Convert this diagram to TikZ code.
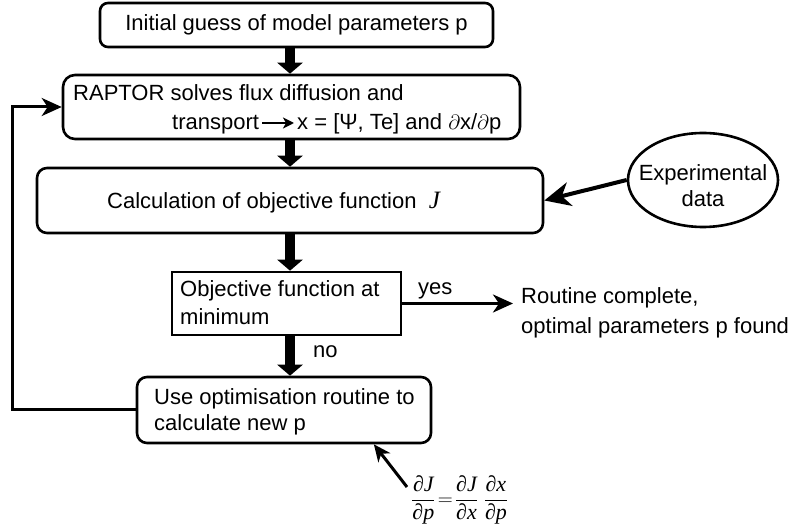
\documentclass[tikz,border=0pt]{standalone}
\usepackage{fontspec}
\setmainfont{Liberation Sans}
\newfontfamily\tms{Liberation Serif}
\usetikzlibrary{arrows.meta,shapes.geometric,calc}
\newcommand{\ti}[1]{\hbox{\tms\itshape #1}}
\begin{document}
\begin{tikzpicture}[x=1pt,y=-1pt,
  every node/.style={font=\fontsize{22}{28}\selectfont},
  box/.style={draw, line width=2.6pt, inner sep=0pt},
  rbox/.style={box, rounded corners=#1},
  txt/.style={anchor=base west, inner sep=0pt},
  ctxt/.style={anchor=base, inner sep=0pt},
  bigarrow/.style={line width=10pt, -{Triangle[length=11pt,width=25pt]}},
  thinarrow/.style={line width=3pt, -{Stealth[length=20pt,width=18pt,inset=6pt]}}
]
\useasboundingbox (0,0) rectangle (801,529);

% boxes
\node[rbox=8pt, minimum width=393pt, minimum height=44pt] (b1) at (296.5,25) {Initial guess of model parameters p};
\node[rbox=12pt, minimum width=457pt, minimum height=64pt] (b2) at (291.5,107) {};
\node[rbox=10pt, minimum width=506pt, minimum height=65pt] (b3) at (290,200.5) {};
\node[box, minimum width=229pt, minimum height=63pt] (b4) at (286.5,303.5) {};
\node[rbox=10pt, minimum width=294pt, minimum height=66pt] (b5) at (284,410) {};
\node[draw, ellipse, line width=2.6pt, minimum width=150pt, minimum height=94pt, inner sep=0pt] (exp) at (703,180) {};

% texts
\node[txt] (b2a) at (73,101) {RAPTOR solves flux diffusion and};
\node[txt] (b2b) at (172,130) {transport};
\node[txt] (b2c) at (297,130) {x = [Ψ, Te] and $\partial$x/$\partial$p};
\draw[line width=2pt, -{Stealth[length=11pt,width=11pt,inset=3pt]}] ([xshift=3pt,yshift=7pt]b2b.base east) -- ([xshift=-3pt,yshift=7pt]b2c.base west);
\node[txt] (b3t) at (107,209) {Calculation of objective function\ \ {\tms\itshape\fontsize{25}{28}\selectfont J}};
\node[txt] (b4a) at (180,297) {Objective function at};
\node[txt] (b4b) at (180,325) {minimum};
\node[txt] (b5a) at (154,404) {Use optimisation routine to};
\node[txt] (b5b) at (154,430) {calculate new p};
\node[ctxt] (expa) at (703,181) {Experimental};
\node[ctxt] (expb) at (703,207) {data};
\node[txt] (yes) at (418,295) {yes};
\node[txt] (no) at (313,358) {no};
\node[txt] (rc1) at (521,304) {Routine complete,};
\node[txt] (rc2) at (521,334) {optimal parameters p found};
\node[anchor=west, inner sep=0pt] (frm) at (411,500) {\fontsize{22}{26}\selectfont $\displaystyle\frac{\ti{∂J}}{\ti{∂p}}\!=\!\frac{\ti{∂J}}{\ti{∂x}}\;\frac{\ti{∂x}}{\ti{∂p}}$};

% main flow arrows
\coordinate (ax) at (290,0);
\draw[bigarrow] (b1.south -| ax) -- (b2.north -| ax);
\draw[bigarrow] (b2.south -| ax) -- (b3.north -| ax);
\draw[bigarrow] (b3.south -| ax) -- (b4.north -| ax);
\draw[bigarrow] (b4.south -| ax) -- (b5.north -| ax);

% other connectors
\draw[thinarrow, line width=4pt, -{Stealth[length=26pt,width=24pt,inset=8pt]}] (exp.west) -- (b3.east);
\coordinate (yesend) at (513,303.5);
\draw[thinarrow] (b4.east) -- (yesend);
\coordinate (loopx) at (12,0);
\draw[thinarrow] (b5.west) -- (b5.west -| loopx) |- (b2.west);
\coordinate (ftail) at (407,487);
\coordinate (ftip) at ($(b5.south west)!0.803!(b5.south east)$);
\draw[thinarrow, -{Stealth[length=17pt,width=15pt,inset=5pt]}] (ftail) -- (ftip);
\end{tikzpicture}
\end{document}
